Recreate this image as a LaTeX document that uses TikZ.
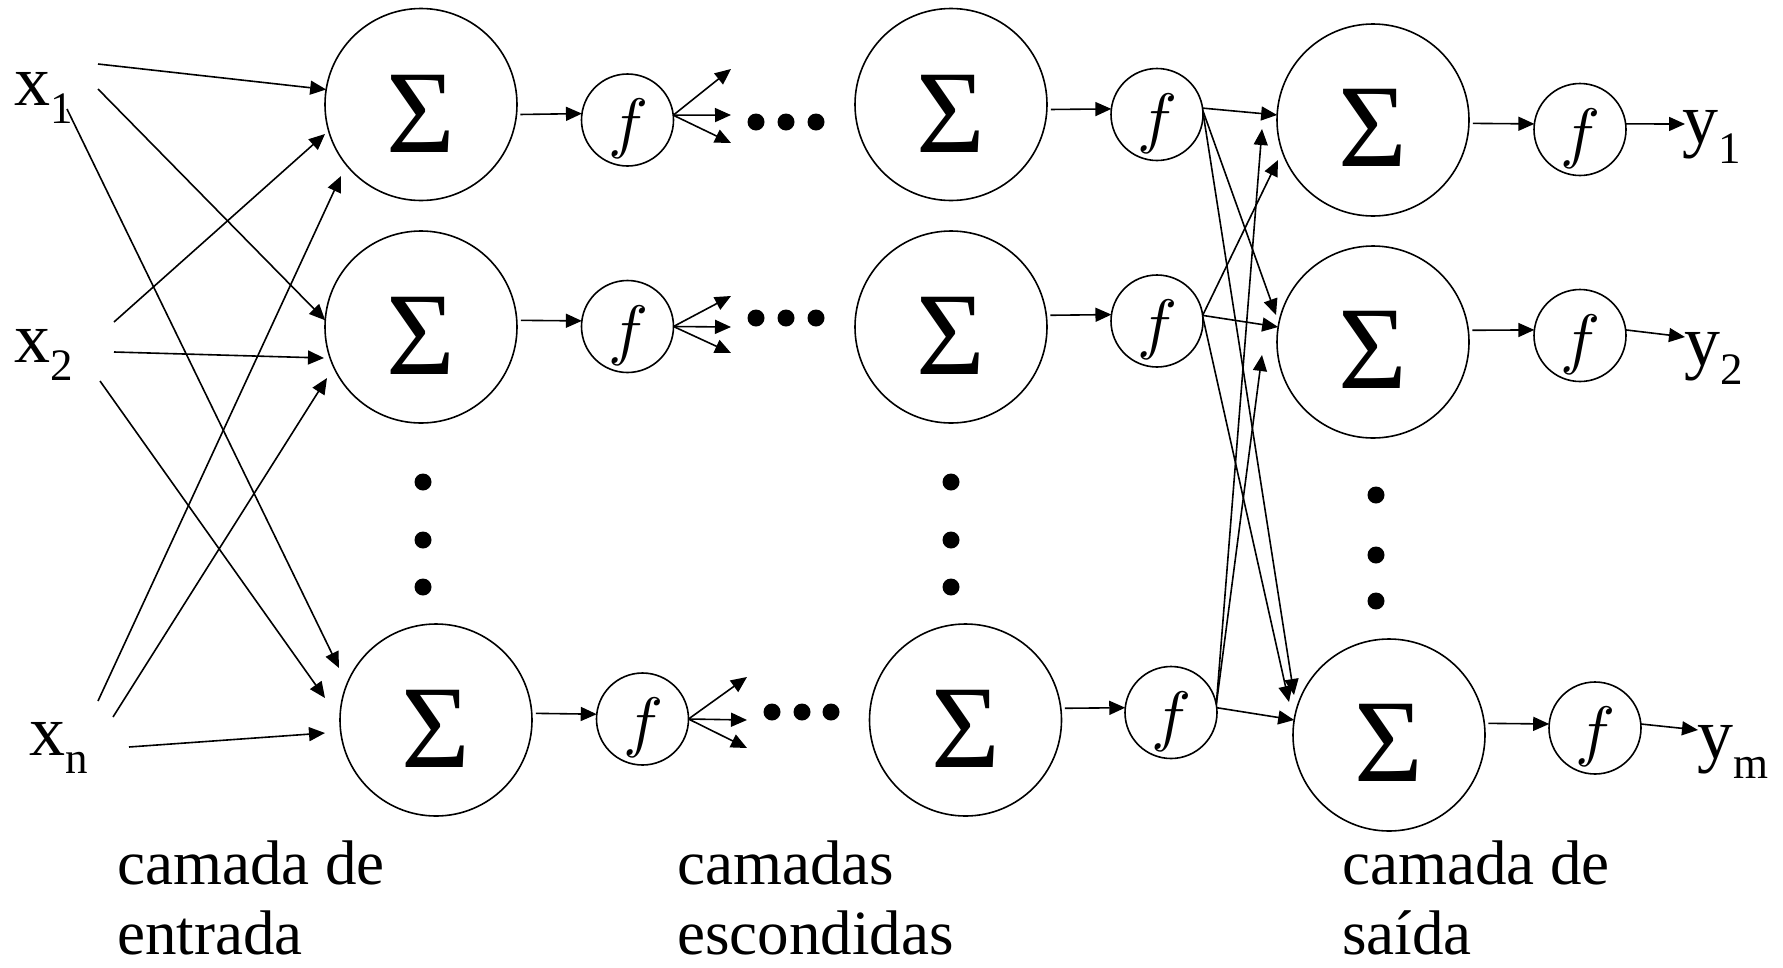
\documentclass[tikz,border=0pt]{standalone}
\usepackage{graphicx}
\usepackage{fontspec}
\setmainfont{Liberation Serif}
\usetikzlibrary{arrows.meta}
\tikzset{
  sumc/.style={draw, circle, minimum size=192pt, inner sep=0pt, outer sep=0pt, line width=1.6pt},
  fc/.style={draw, circle, minimum size=92pt, inner sep=0pt, outer sep=0pt, line width=1.6pt},
  sig/.style={font=\fontsize{118}{118}\selectfont, inner sep=0pt},
  ff/.style={font=\normalsize, inner sep=0pt},
  arr/.style={-{Triangle[length=16pt,width=14pt]}, line width=1.6pt},
  dotn/.style={fill, circle, minimum size=17pt, inner sep=0pt},
  lab/.style={font=\fontsize{72}{72}\selectfont, inner sep=0pt, anchor=base west},
  capt/.style={font=\fontsize{63}{63}\selectfont, inner sep=0pt, anchor=base west, text depth=0pt}
}
\newcommand{\subs}[2]{\raisebox{-#1pt}{\fontsize{45}{45}\selectfont #2}}
\newcommand{\fx}{\scalebox{6.7}{$f$}}
\begin{document}
\begin{tikzpicture}[x=1pt,y=-1pt]
\useasboundingbox (0,0) rectangle (1783,967);

% input labels
\node[lab] (x1) at (14,105) {x\subs{18}{1}};
\node[lab] (x2) at (14,362) {x\subs{18}{2}};
\node[lab] (xn) at (29,755) {x\subs{18}{n}};

% output labels
\node[lab] (y1) at (1682,143) {y\subs{20}{1}};
\node[lab] (y2) at (1684,365) {y\subs{19}{2}};
\node[lab] (ym) at (1697,758) {y\subs{20}{m}};

% layer captions
\node[capt] (c1a) at (117,884) {camada de};
\node[capt] (c1b) at (117,954) {entrada};
\node[capt] (c2a) at (677,884) {camadas};
\node[capt] (c2b) at (677,954) {escondidas};
\node[capt] (c3a) at (1342,884) {camada de};
\node[capt] (c3b) at (1342,954) {saída};

% sum circles
\node[sumc] (A1) at (421,104.5) {};
\node[sumc] (A2) at (421,327) {};
\node[sumc] (A3) at (436,720) {};
\node[sumc] (C1) at (951,104.5) {};
\node[sumc] (C2) at (951,327) {};
\node[sumc] (C3) at (965.5,720) {};
\node[sumc] (E1) at (1373,120) {};
\node[sumc] (E2) at (1373,342) {};
\node[sumc] (E3) at (1389,735) {};
\node[sig] (A1s) at (421,113.5) {Σ};
\node[sig] (A2s) at (421,336) {Σ};
\node[sig] (A3s) at (436,729) {Σ};
\node[sig] (C1s) at (951,113.5) {Σ};
\node[sig] (C2s) at (951,336) {Σ};
\node[sig] (C3s) at (965.5,729) {Σ};
\node[sig] (E1s) at (1373,128) {Σ};
\node[sig] (E2s) at (1373,350) {Σ};
\node[sig] (E3s) at (1389,743) {Σ};

% activation circles
\node[fc] (B1) at (627.5,120) {};
\node[fc] (B2) at (627.5,326.5) {};
\node[fc] (B3) at (642.5,719) {};
\node[fc] (D1) at (1157,114.5) {};
\node[fc] (D2) at (1157,321) {};
\node[fc] (D3) at (1171,712.5) {};
\node[fc] (F1) at (1580,129.5) {};
\node[fc] (F2) at (1580,335.5) {};
\node[fc] (F3) at (1595,728) {};
\node[ff] (B1f) at (628,129) {\fx};
\node[ff] (B2f) at (628,335.5) {\fx};
\node[ff] (B3f) at (643,728) {\fx};
\node[ff] (D1f) at (1157.5,123.5) {\fx};
\node[ff] (D2f) at (1157.5,330) {\fx};
\node[ff] (D3f) at (1171.5,721.5) {\fx};
\node[ff] (F1f) at (1580.5,139) {\fx};
\node[ff] (F2f) at (1580.5,345) {\fx};
\node[ff] (F3f) at (1595.5,737) {\fx};

% vertical ellipsis dots
\node[dotn] (va1) at (423,482) {};
\node[dotn] (va2) at (423,540) {};
\node[dotn] (va3) at (423,587) {};
\node[dotn] (vc1) at (951,482) {};
\node[dotn] (vc2) at (951,540) {};
\node[dotn] (vc3) at (951,587) {};
\node[dotn] (ve1) at (1376,495) {};
\node[dotn] (ve2) at (1376,555) {};
\node[dotn] (ve3) at (1376,601) {};

% horizontal ellipsis dots
\node[dotn] (h11) at (756,122) {};
\node[dotn] (h12) at (786,122) {};
\node[dotn] (h13) at (816,122) {};
\node[dotn] (h21) at (756,318) {};
\node[dotn] (h22) at (786,318) {};
\node[dotn] (h23) at (816,318) {};
\node[dotn] (h31) at (772,712) {};
\node[dotn] (h32) at (802,712) {};
\node[dotn] (h33) at (831,712) {};

% free ends
\coordinate (s1a) at (98,64);
\coordinate (s1b) at (98,89);
\coordinate (s1c) at (67,109);
\coordinate (s2a) at (114,322);
\coordinate (s2b) at (114,352);
\coordinate (s2c) at (100,381);
\coordinate (sna) at (98,701);
\coordinate (snb) at (113,717);
\coordinate (snc) at (129,747);
\coordinate (t1c) at (339,668);
\coordinate (t2a) at (325,134);
\coordinate (t2b) at (324,358);
\coordinate (t2c) at (325,698);
\coordinate (tna) at (341,176);
\coordinate (tnb) at (327,378);
\coordinate (tnc) at (325,733);
\coordinate (te12) at (1276,315);
\coordinate (te13) at (1294,695);
\coordinate (te21) at (1278,160);
\coordinate (te23) at (1289,702);
\coordinate (te31) at (1262,129);
\coordinate (te32) at (1262,355);
\coordinate (ty1) at (1685,124);
\coordinate (ty2) at (1685,337);
\coordinate (tym) at (1698,730);
\coordinate (b1u) at (731,69);
\coordinate (b1m) at (731,115);
\coordinate (b1d) at (731,143);
\coordinate (b2u) at (731,296);
\coordinate (b2m) at (731,327);
\coordinate (b2d) at (731,353);
\coordinate (b3u) at (747,677);
\coordinate (b3m) at (747,720);
\coordinate (b3d) at (747,748);

% input connections
\draw[arr] (s1a) -- (A1.171);
\draw[arr] (s1b) -- (A2.176);
\draw[arr] (s1c) -- (t1c);
\draw[arr] (s2a) -- (t2a);
\draw[arr] (s2b) -- (t2b);
\draw[arr] (s2c) -- (t2c);
\draw[arr] (sna) -- (tna);
\draw[arr] (snb) -- (tnb);
\draw[arr] (snc) -- (tnc);

% sum -> f
\draw[arr, shorten <=4pt] (A1.-6) -- (B1.172);
\draw[arr, shorten <=4pt] (A2.4) -- (B2.173);
\draw[arr, shorten <=4pt] (A3.4) -- (B3.174);
\draw[arr, shorten <=4pt] (C1.-3) -- (D1.173);
\draw[arr, shorten <=4pt] (C2.7) -- (D2.172);
\draw[arr, shorten <=4pt] (C3.7) -- (D3.174);
\draw[arr, shorten <=4pt] (E1.-2) -- (F1.173);
\draw[arr, shorten <=4pt] (E2.7) -- (F2.173);
\draw[arr, shorten <=4pt] (E3.7) -- (F3.175);

% fan-out of first hidden activations
\draw[arr] (B1.6) -- (b1u);
\draw[arr] (B1.6) -- (b1m);
\draw[arr] (B1.6) -- (b1d);
\draw[arr] (B2.0) -- (b2u);
\draw[arr] (B2.0) -- (b2m);
\draw[arr] (B2.0) -- (b2d);
\draw[arr] (B3.0) -- (b3u);
\draw[arr] (B3.0) -- (b3m);
\draw[arr] (B3.0) -- (b3d);

% last hidden -> output layer
\draw[arr] (D1.8) -- (E1.177);
\draw[arr] (D1.5) -- (te12);
\draw[arr] (D1.3) -- (te13);
\draw[arr] (D2.7) -- (te21);
\draw[arr] (D2.7) -- (E2.171);
\draw[arr] (D2.5) -- (te23);
\draw[arr] (D3.10) -- (te31);
\draw[arr] (D3.10) -- (te32);
\draw[arr] (D3.6) -- (E3.171);

% output f -> y
\draw[arr] (F1.7) -- (ty1);
\draw[arr] (F2.7) -- (ty2);
\draw[arr] (F3.5) -- (tym);
\end{tikzpicture}
\end{document}
